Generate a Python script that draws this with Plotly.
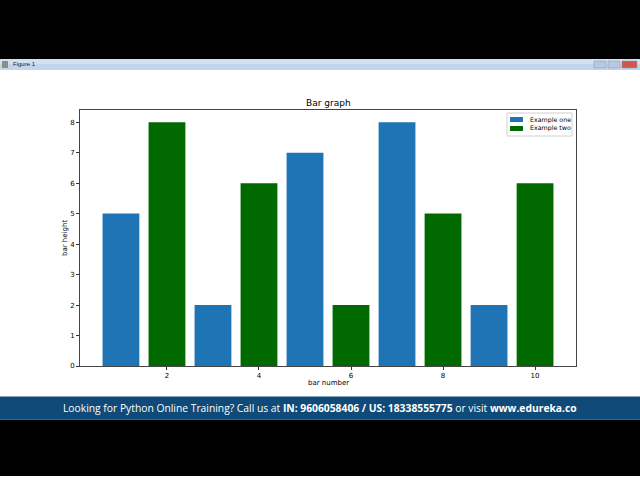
import plotly.graph_objects as go

# ---- data ----
x_one = [1, 3, 5, 7, 9]
h_one = [5, 2, 7, 8, 2]
x_two = [2, 4, 6, 8, 10]
h_two = [8, 6, 2, 5, 6]
name_one = "Example one"
name_two = "Example two"
x_ticks = [2, 4, 6, 8, 10]
y_ticks = [0, 1, 2, 3, 4, 5, 6, 7, 8]
title_text = "Bar graph"
x_label = "bar number"
y_label = "bar height"
banner = ("Looking for Python Online Training? Call us at <b>IN: 9606058406 / US: 18338555775</b>"
          " or visit <b>www.edureka.co</b>")

W, H = 640, 480
HY = 476.0  # vertical calibration
C_ONE = "#1f74b6"
C_TWO = "#006a00"
FONT = "DejaVu Sans"

def px(x):
    return x / W

def py(y):
    return 1 - y / HY

fig = go.Figure()
fig.add_trace(go.Bar(x=x_one, y=h_one, width=0.8, marker=dict(color=C_ONE, line=dict(width=0)),
                     name=name_one, showlegend=False))
fig.add_trace(go.Bar(x=x_two, y=h_two, width=0.8, marker=dict(color=C_TWO, line=dict(width=0)),
                     name=name_two, showlegend=False))

ax_left, ax_right, ax_top, ax_bot = 80, 576, 110, 366

shapes = []
annotations = []
# black letterbox
shapes.append(dict(type="rect", xref="paper", yref="paper", x0=0, x1=1, y0=py(59), y1=1,
                   fillcolor="black", line=dict(width=0), layer="below"))
shapes.append(dict(type="rect", xref="paper", yref="paper", x0=0, x1=1, y0=0, y1=py(419.5),
                   fillcolor="black", line=dict(width=0), layer="below"))
# window title bar
shapes.append(dict(type="rect", xref="paper", yref="paper", x0=0, x1=1, y0=py(70), y1=py(59),
                   fillcolor="#c3d4ec", line=dict(width=0), layer="below"))
shapes.append(dict(type="rect", xref="paper", yref="paper", x0=0, x1=1, y0=py(64), y1=py(59),
                   fillcolor="#d2e0f2", line=dict(width=0), layer="below"))
shapes.append(dict(type="rect", xref="paper", yref="paper", x0=px(2), x1=px(8), y0=py(68), y1=py(61),
                   fillcolor="#8a8f80", line=dict(width=0), layer="below"))
for (a, b, c) in [(594, 606, "#b7c8e0"), (608, 620, "#b7c8e0"), (622, 637, "#d0584a")]:
    shapes.append(dict(type="rect", xref="paper", yref="paper", x0=px(a), x1=px(b), y0=py(68), y1=py(61),
                       fillcolor=c, line=dict(color="#8899b0", width=0.5), layer="below"))
annotations.append(dict(text="Figure 1", xref="paper", yref="paper", x=px(11), y=py(64.5),
                        xanchor="left", yanchor="middle", showarrow=False,
                        font=dict(family="Liberation Sans", size=6, color="#222")))
# banner
shapes.append(dict(type="rect", xref="paper", yref="paper", x0=0, x1=1, y0=py(419.5), y1=py(396.5),
                   fillcolor="#0f4a78", line=dict(width=0), layer="below"))
annotations.append(dict(text=banner, xref="paper", yref="paper", x=px(320), y=py(408),
                        xanchor="center", yanchor="middle", showarrow=False,
                        font=dict(family="Open Sans", size=10.3, color="white")))
# title
annotations.append(dict(text=title_text, xref="paper", yref="paper", x=px(328), y=py(103),
                        xanchor="center", yanchor="middle", showarrow=False,
                        font=dict(family=FONT, size=9, color="black")))
# axis labels
annotations.append(dict(text=x_label, xref="paper", yref="paper", x=px(328), y=py(383),
                        xanchor="center", yanchor="middle", showarrow=False,
                        font=dict(family=FONT, size=7, color="black")))
annotations.append(dict(text=y_label, xref="paper", yref="paper", x=px(65), y=py(238),
                        xanchor="center", yanchor="middle", showarrow=False, textangle=-90,
                        font=dict(family=FONT, size=7, color="black")))
# legend (manual)
shapes.append(dict(type="rect", xref="paper", yref="paper", x0=px(507), x1=px(572), y0=py(136), y1=py(113),
                   fillcolor="white", line=dict(color="#d0d0d0", width=1)))
for i, (nm, col) in enumerate([(name_one, C_ONE), (name_two, C_TWO)]):
    yc = 119.5 + i * 9
    shapes.append(dict(type="rect", xref="paper", yref="paper", x0=px(510), x1=px(523),
                       y0=py(yc + 2.5), y1=py(yc - 2.5), fillcolor=col, line=dict(width=0)))
    annotations.append(dict(text=nm, xref="paper", yref="paper", x=px(527.5), y=py(yc),
                            xanchor="left", yanchor="middle", showarrow=False,
                            font=dict(family=FONT, size=6.3, color="black")))

fig.update_layout(
    width=W, height=H,
    margin=dict(l=0, r=0, t=0, b=0),
    paper_bgcolor="white", plot_bgcolor="white",
    barmode="overlay",
    showlegend=False,
    shapes=shapes, annotations=annotations,
    xaxis=dict(domain=[px(ax_left), px(ax_right)], range=[0.11, 10.89],
               tickvals=x_ticks, ticktext=[str(v) for v in x_ticks],
               ticks="outside", ticklen=3, tickwidth=1, tickcolor="#333",
               showline=True, linecolor="#444", linewidth=1, mirror=True,
               showgrid=False, zeroline=False,
               tickfont=dict(family=FONT, size=7, color="black")),
    yaxis=dict(domain=[py(ax_bot), py(ax_top)], range=[0, 8.4],
               tickvals=y_ticks, ticktext=[str(v) for v in y_ticks],
               ticks="outside", ticklen=3, tickwidth=1, tickcolor="#333",
               showline=True, linecolor="#444", linewidth=1, mirror=True,
               showgrid=False, zeroline=False,
               tickfont=dict(family=FONT, size=7, color="black")),
)

fig.write_html("out.html")
